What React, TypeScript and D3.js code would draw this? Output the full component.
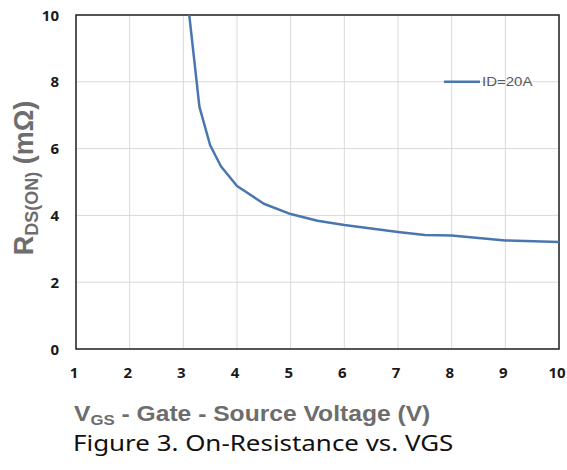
import React from "react";
import * as d3 from "d3";

const vgs = [3.0, 3.3, 3.5, 3.7, 4.0, 4.5, 5.0, 5.5, 6.0, 7.0, 7.5, 8.0, 9.0, 10.0];
const rdsOn = [11.6, 7.25, 6.1, 5.47, 4.88, 4.35, 4.04, 3.84, 3.71, 3.5, 3.41, 3.4, 3.25, 3.2];
const xTicks = [1, 2, 3, 4, 5, 6, 7, 8, 9, 10];
const yTicks = [0, 2, 4, 6, 8, 10];
const seriesName = "ID=20A";

export default function App() {
  const W = 567, H = 470;
  const left = 76, right = 559, top = 15, bottom = 349;
  const x = d3.scaleLinear().domain([1, 10]).range([left, right]);
  const y = d3.scaleLinear().domain([0, 10]).range([bottom, top]);
  const pts: [number, number][] = vgs.map((v, i) => [v, rdsOn[i]]);
  const line = d3.line<[number, number]>().x(d => x(d[0])).y(d => y(d[1]));
  const tickFont = "'Open Sans', sans-serif";
  const titleFont = "'Liberation Sans', Arial, sans-serif";
  return (
    <svg width={W} height={H} style={{ position: "absolute", left: 0, top: 0, background: "#fff" }}>
      <defs>
        <clipPath id="plotclip">
          <rect x={left} y={top} width={right - left} height={bottom - top} />
        </clipPath>
      </defs>
      <rect x={0} y={0} width={W} height={H} fill="#fff" />
      {xTicks.map(t => (
        <line key={"gx" + t} x1={x(t)} x2={x(t)} y1={top} y2={bottom} stroke="#d9d9d9" strokeWidth={1} />
      ))}
      {yTicks.map(t => (
        <line key={"gy" + t} x1={left} x2={right} y1={y(t)} y2={y(t)} stroke="#d9d9d9" strokeWidth={1} />
      ))}
      <rect x={left} y={top} width={right - left} height={bottom - top} fill="none" stroke="#222" strokeWidth={1.5} />
      <path d={line(pts) || ""} fill="none" stroke="#4a76b0" strokeWidth={2.5} clipPath="url(#plotclip)" strokeLinejoin="round" />
      {xTicks.map(t => (
        <text key={"tx" + t} x={x(t) - 2} y={378} textAnchor="middle" fontFamily={tickFont} fontWeight="bold" fontSize={15} fill="#1a1a1a">{t}</text>
      ))}
      {yTicks.map(t => (
        <text key={"ty" + t} x={59} y={y(t) + 5.5} textAnchor="end" fontFamily={tickFont} fontWeight="bold" fontSize={15} fill="#1a1a1a">{t}</text>
      ))}
      <line x1={444} x2={480} y1={y(8)} y2={y(8)} stroke="#4a76b0" strokeWidth={2.5} />
      <text transform={`translate(482,${y(8) + 4.5}) scale(1.2,1)`} fontFamily={titleFont} fontSize={12.5} fill="#595959">{seriesName}</text>
      <text transform={`translate(33,178) rotate(-90)`} textAnchor="middle" fontFamily={titleFont} fontWeight="bold" fontSize={27} fill="#6d6d6d">
        <tspan>R</tspan>
        <tspan fontSize={18} dy={5}>DS(ON)</tspan>
        <tspan dy={-5}> (mΩ)</tspan>
      </text>
      <text transform="translate(74,421) scale(1.12,1)" fontFamily={titleFont} fontWeight="bold" fontSize={22} fill="#6d6d6d">
        <tspan>V</tspan>
        <tspan fontSize={15} dy={4}>GS</tspan>
        <tspan dy={-4}> - Gate - Source Voltage (V)</tspan>
      </text>
      <text transform="translate(73,451) scale(1.235,1)" fontFamily="'Noto Sans', sans-serif" fontSize={21} fill="#111">Figure 3. On-Resistance vs. VGS</text>
    </svg>
  );
}
